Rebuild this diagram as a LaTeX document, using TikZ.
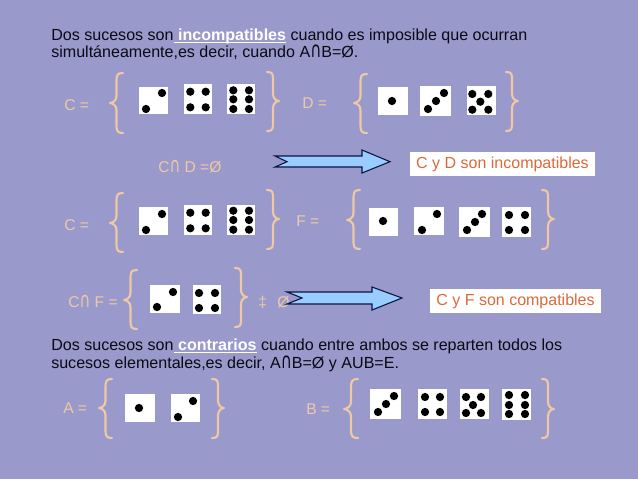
\documentclass[tikz,border=0pt]{standalone}
\usepackage{fontspec}
\setmainfont{Liberation Sans}
\newfontfamily\capfont[Scale=0.9]{DejaVu Sans}
\newcommand{\capsym}{\scalebox{1.05}[1.5]{\capfont ∩}}
\definecolor{bg}{HTML}{9999CC}
\definecolor{peach}{HTML}{F0C8A4}
\definecolor{arrowfill}{HTML}{99CCFF}
\definecolor{arrowline}{HTML}{0A1440}
\definecolor{boxtext}{HTML}{DC693C}
\definecolor{ink}{HTML}{0A0A14}
\newcommand{\rbrc}[5]{% xleft xright top bottom tip : right brace
  \draw[bracestyle] (#1,#3) .. controls ({#1+6},#3) and ({(#1+#2)/2},{#3+2}) .. ({(#1+#2)/2},{#3+9})
    -- ({(#1+#2)/2},{#5-7}) .. controls ({(#1+#2)/2},{#5-2}) and ({#2-2},#5) .. (#2,#5)
    .. controls ({#2-2},#5) and ({(#1+#2)/2},{#5+2}) .. ({(#1+#2)/2},{#5+7})
    -- ({(#1+#2)/2},{#4-9}) .. controls ({(#1+#2)/2},{#4-2}) and ({#1+6},#4) .. (#1,#4);}
\newcommand{\lbrc}[5]{% xleft xright top bottom tip : left brace
  \draw[bracestyle] (#2,#3) .. controls ({#2-6},#3) and ({(#1+#2)/2},{#3+2}) .. ({(#1+#2)/2},{#3+9})
    -- ({(#1+#2)/2},{#5-7}) .. controls ({(#1+#2)/2},{#5-2}) and ({#1+2},#5) .. (#1,#5)
    .. controls ({#1+2},#5) and ({(#1+#2)/2},{#5+2}) .. ({(#1+#2)/2},{#5+7})
    -- ({(#1+#2)/2},{#4-9}) .. controls ({(#1+#2)/2},{#4-2}) and ({#2-6},#4) .. (#2,#4);}
\newcommand{\dieface}[5]{% x1 y1 x2 y2 pips
  \fill[white] (#1,#2) rectangle (#3,#4);
  \foreach \p in {#5} \fill[black] (\p) circle[radius=3.1pt];}
\newcommand{\blockarrow}[9]{% xtail xnotch xneck xtip ytop yshafttop ymid yshaftbot ybot
  \draw[blockstyle] (#1,#6) -- (#3,#6) -- (#3,#5) -- (#4,#7) -- (#3,#9) -- (#3,#8) -- (#1,#8) -- (#2,#7) -- cycle;}
\tikzset{
  bracestyle/.style={draw=peach,line width=1.6pt,line cap=round,line join=round},
  blockstyle/.style={draw=arrowline,fill=arrowfill,line width=0.8pt,line join=miter},
  lab/.style={text=peach,font=\fontsize{11.7}{13}\selectfont,inner sep=0pt,anchor=base west},
  body/.style={text=ink,font=\fontsize{12.05}{14}\selectfont,inner sep=0pt,anchor=base west},
  verdict/.style={fill=white,text=boxtext,font=\fontsize{12}{14}\selectfont,inner sep=0pt,align=center}
}
\newcommand{\hl}[1]{\textcolor{white}{\underline{\smash{\ \textbf{#1}}}}}
\begin{document}
\begin{tikzpicture}[x=0.75pt,y=-0.75pt]
\useasboundingbox (0,0) rectangle (638,479);
\fill[bg] (0,0) rectangle (638,479);
% heading text
\node[body] (t1) at (51,40) {Dos sucesos son\hl{incompatibles} cuando es imposible que ocurran};
\node[body] (t2) at (51,57) {simultáneamente,es decir, cuando A\capsym B=Ø.};
% row 1
\node[lab] (c1) at (64,110) {C =};
\lbrc{110}{123}{73}{133}{103}
\dieface{139}{87}{168}{114}{{162,93},{146,109}}
\dieface{184}{84}{212}{114}{{190.3,91.7},{205.7,91.7},{190.3,107.3},{205.7,107.3}}
\dieface{227}{84}{255}{114}{{233.3,90.3},{249,90.3},{233.3,99.3},{249,99.3},{233.3,109},{249,109}}
\rbrc{267}{279}{72}{131}{101}
\node[lab] (d1) at (302,108) {D =};
\lbrc{354}{367}{74}{133}{103}
\dieface{378}{87}{408}{115}{{392,101}}
\dieface{420}{86}{451}{116}{{428,109},{436,101},{444,93}}
\dieface{467}{86}{496}{115}{{472.3,94},{488.3,94},{480.3,101.7},{472.3,109.7},{488.3,109.7}}
\rbrc{506}{518}{72}{131}{101}
% result 1
\node[lab] (r1) at (158,172) {C\capsym{} D =Ø};
\blockarrow{275}{287}{362}{390}{150}{156}{161.7}{167}{173}
\node[verdict,minimum width=139pt,minimum height=18pt] (v1) at (502.5,164) {C y D son incompatibles};
% row 2
\node[lab] (c2) at (64,230) {C =};
\lbrc{110}{123}{193}{252}{223}
\dieface{139}{207}{168}{235}{{162,214},{146,230}}
\dieface{184}{205}{212}{235}{{190.3,212.7},{205.7,212.7},{190.3,228.3},{205.7,228.3}}
\dieface{227}{205}{255}{235}{{233.3,210.7},{249,210.7},{233.3,220},{249,220},{233.3,229.7},{249,229.7}}
\rbrc{267}{279}{190}{249}{219}
\node[lab] (f1) at (296,226) {F =};
\lbrc{347}{360}{190}{249}{220}
\dieface{369}{208}{398}{236}{{383,221}}
\dieface{414}{207}{444}{235}{{437,214},{422,230}}
\dieface{459}{207}{490}{237}{{467,230},{475,222},{482,214}}
\dieface{502}{207}{531}{237}{{509,215},{525,215},{509,230},{525,230}}
\rbrc{542}{554}{190}{249}{219}
% result 2
\node[lab] (r2) at (68,307) {C\capsym{} F =};
\lbrc{124}{137}{270}{329}{300}
\dieface{150}{285}{180}{313}{{173,292},{157,307}}
\dieface{193}{285}{221}{314}{{199,293},{215,293},{199,308},{215,308}}
\rbrc{235}{247}{268}{327}{297}
\node[lab] (n1) at (258,307) {‡};
\node[lab] (n2) at (277,307) {Ø};
\blockarrow{287}{302}{372}{402}{287}{292}{298}{304}{310}
\node[verdict,minimum width=128.25pt,minimum height=18pt] (v2) at (515.5,301) {C y F son compatibles};
% second heading
\node[body] (t3) at (51,350) {Dos sucesos son\hl{contrarios} cuando entre ambos se reparten todos los};
\node[body] (t4) at (51,368) {sucesos elementales,es decir, A\capsym B=Ø y AUB=E.};
% row 3
\node[lab] (a1) at (63,413) {A =};
\lbrc{99}{112}{379}{438}{408}
\dieface{125}{394}{155}{422}{{139,408}}
\dieface{171}{394}{200}{422}{{193,401},{178,417}}
\rbrc{212}{224}{379}{438}{408}
\node[lab] (b1) at (306,414) {B =};
\lbrc{344}{358}{379}{438}{409}
\dieface{370}{389}{401}{419}{{378,412},{386,404},{394,396}}
\dieface{418}{389}{447}{419}{{425,397},{440,397},{425,412},{440,412}}
\dieface{460}{389}{489}{419}{{466,397},{481,397},{473,405},{466,413},{481,413}}
\dieface{502}{389}{531}{420}{{509,395},{525,395},{509,405},{525,405},{509,414},{525,414}}
\rbrc{542}{554}{379}{438}{409}
\end{tikzpicture}
\end{document}
